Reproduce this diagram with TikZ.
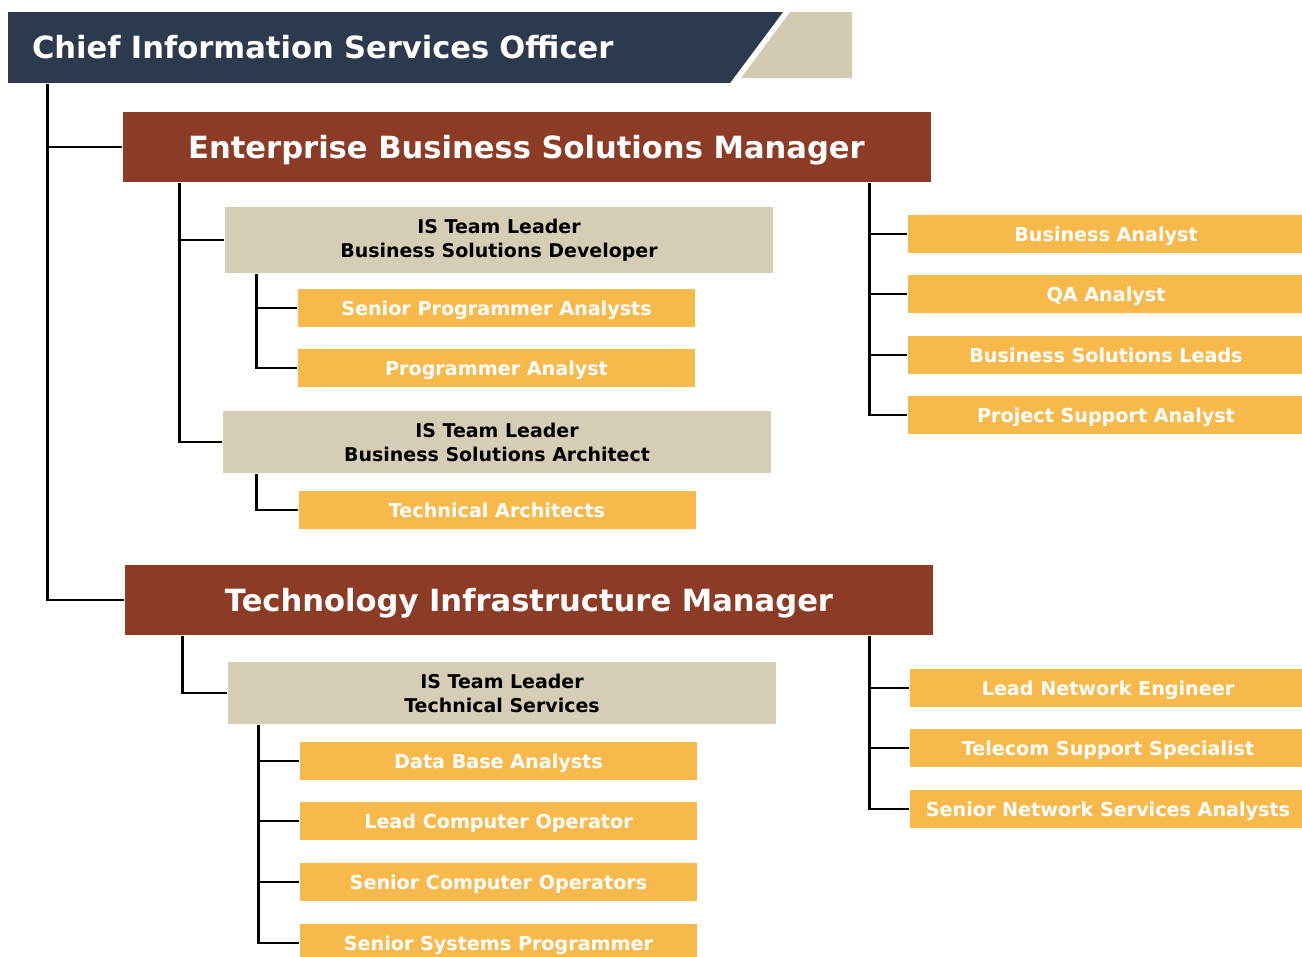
\documentclass[tikz,border=0pt]{standalone}
\usepackage{fontspec}
\setmainfont{DejaVu Sans}
\usetikzlibrary{positioning}
\definecolor{navy}{HTML}{2D3A4E}
\definecolor{chieftan}{HTML}{D2CAB1}
\definecolor{rust}{HTML}{8C3B27}
\definecolor{sand}{HTML}{D5CDB5}
\definecolor{gold}{HTML}{F7B94B}

\begin{document}
\begin{tikzpicture}[
  x=0.1mm, y=-0.1mm,
  chief/.style={rectangle, fill=navy, text=white, font=\bfseries\fontsize{8.7}{10}\selectfont, minimum height=7.1mm, text width=67.4mm, inner xsep=2.4mm, inner ysep=0pt, align=left, text height=6.35pt, text depth=0pt},
  manager/.style={rectangle, fill=rust, text=white, font=\bfseries\fontsize{8.7}{10}\selectfont, minimum width=80.8mm, minimum height=7mm, inner ysep=0pt, text height=6.35pt, text depth=0pt},
  leader/.style={rectangle, fill=sand, text=black, font=\bfseries\fontsize{5.4}{6.8}\selectfont, align=center, minimum width=54.8mm, minimum height=6.1mm},
  staff/.style={rectangle, fill=gold, text=white, font=\bfseries\fontsize{5.45}{6}\selectfont, minimum width=39.7mm, minimum height=3.8mm, inner ysep=0pt, text height=4pt, text depth=0pt},
  link/.style={draw=black, line width=0.8pt}
]
  \useasboundingbox (0,0) rectangle (1302,956);

  % top box
  \fill[navy] (729,12) -- (783,12) -- (730,83) -- (729,83) -- cycle;
  \node[chief] (ciso) at (369, 47.5) {Chief Information Services Officer};
  \fill[chieftan] (790,12) -- (852,12) -- (852,78) -- (741,78) -- cycle;

  % managers
  \node[manager] (ebs) at (526.5, 147) {Enterprise Business Solutions Manager};
  \node[manager] (tim) at (529, 600)   {Technology Infrastructure Manager};

  % team leaders
  \node[leader] (tl1) at (499, 240) {IS Team Leader\\Business Solutions Developer};
  \node[leader] (tl2) at (497, 442) {IS Team Leader\\Business Solutions Architect};
  \node[leader] (tl3) at (502, 693) {IS Team Leader\\Technical Services};

  % staff, left column
  \node[staff] (spa) at (496.5, 308) {Senior Programmer Analysts};
  \node[staff] (pa)  at (496.5, 368) {Programmer Analyst};
  \node[staff] (ta)  at (497, 510)   {Technical Architects};
  \node[staff] (dba) at (498.5, 761) {Data Base Analysts};
  \node[staff] (lco) at (498.5, 821) {Lead Computer Operator};
  \node[staff] (sco) at (498.5, 882) {Senior Computer Operators};
  \node[staff] (ssp) at (498.5, 943) {Senior Systems Programmer};

  % staff, right column
  \node[staff] (ba)   at (1106, 234) {Business Analyst};
  \node[staff] (qa)   at (1106, 294) {QA Analyst};
  \node[staff] (bsl)  at (1106, 355) {Business Solutions Leads};
  \node[staff] (psa)  at (1106, 415) {Project Support Analyst};
  \node[staff] (lne)  at (1108, 688) {Lead Network Engineer};
  \node[staff] (tss)  at (1108, 748) {Telecom Support Specialist};
  \node[staff] (snsa) at (1108, 809) {Senior Network Services Analysts};

  % connectors
  \draw[link] ([xshift=4mm]ciso.south west) |- (ebs.west);
  \draw[link] ([xshift=4mm]ciso.south west) |- (tim.west);
  \draw[link] ([xshift=5.8mm]ebs.south west) |- (tl1.west);
  \draw[link] ([xshift=5.8mm]ebs.south west) |- (tl2.west);
  \draw[link] ([xshift=3.2mm]tl1.south west) |- (spa.west);
  \draw[link] ([xshift=3.2mm]tl1.south west) |- (pa.west);
  \draw[link] ([xshift=3.4mm]tl2.south west) |- (ta.west);
  \foreach \j in {ba,qa,bsl,psa}
    \draw[link] ([xshift=-6.2mm]ebs.south east) |- (\j.west);
  \draw[link] ([xshift=5.8mm]tim.south west) |- (tl3.west);
  \foreach \j in {dba,lco,sco,ssp}
    \draw[link] ([xshift=3.1mm]tl3.south west) |- (\j.west);
  \foreach \j in {lne,tss,snsa}
    \draw[link] ([xshift=-6.4mm]tim.south east) |- (\j.west);
\end{tikzpicture}
\end{document}
